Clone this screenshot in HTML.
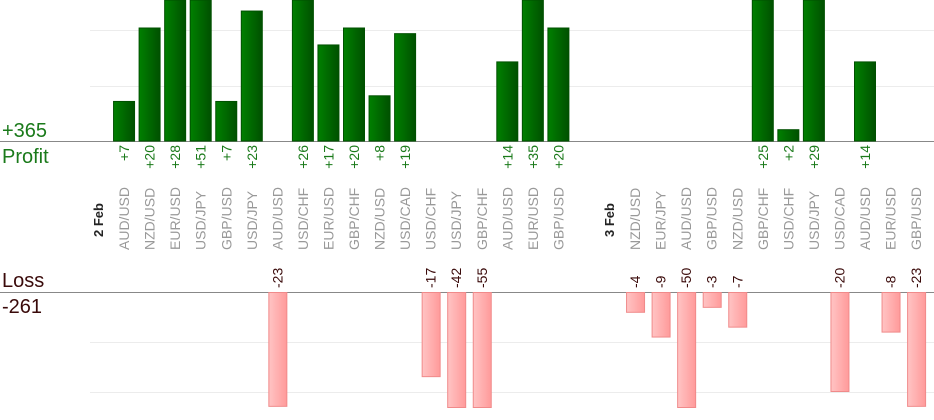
<!DOCTYPE html>
<html><head><meta charset="utf-8"><style>
html,body{margin:0;padding:0;background:#fff;width:934px;height:420px;overflow:hidden}
svg{display:block;font-family:"Liberation Sans",sans-serif}
</style></head><body>
<svg width="934" height="420" xmlns="http://www.w3.org/2000/svg">
<defs>
<linearGradient id="g" x1="0" x2="1" y1="0" y2="0"><stop offset="0" stop-color="#008000"/><stop offset="1" stop-color="#005000"/></linearGradient>
<linearGradient id="r" x1="0" x2="1" y1="0" y2="0"><stop offset="0" stop-color="#ffc4c4"/><stop offset="1" stop-color="#ff9a9a"/></linearGradient>
</defs>
<g stroke="#ececec" stroke-width="1">
<line x1="90" x2="934" y1="30.5" y2="30.5"/><line x1="90" x2="934" y1="86.5" y2="86.5"/>
<line x1="90" x2="934" y1="342.5" y2="342.5"/><line x1="90" x2="934" y1="392.5" y2="392.5"/>
</g>
<line x1="0" x2="934" y1="141.5" y2="141.5" stroke="#888"/>
<line x1="0" x2="934" y1="292.5" y2="292.5" stroke="#888"/>
<text x="2" y="137" font-size="20" fill="#1a7a1a">+365</text>
<text x="2" y="163" font-size="20" fill="#1a7a1a">Profit</text>
<text x="2" y="287" font-size="20" fill="#3a0a0a">Loss</text>
<text x="2" y="313" font-size="20" fill="#3a0a0a">-261</text>
<g id="c"></g>
</svg>
<script>
var cols=[["D","2 Feb"],["AUD/USD",7],["NZD/USD",20],["EUR/USD",28],["USD/JPY",51],["GBP/USD",7],["USD/JPY",23],["AUD/USD",-23],["USD/CHF",26],["EUR/USD",17],["GBP/CHF",20],["NZD/USD",8],["USD/CAD",19],["USD/CHF",-17],["USD/JPY",-42],["GBP/CHF",-55],["AUD/USD",14],["EUR/USD",35],["GBP/USD",20],null,["D","3 Feb"],["NZD/USD",-4],["EUR/JPY",-9],["AUD/USD",-50],["GBP/USD",-3],["NZD/USD",-7],["GBP/CHF",25],["USD/CHF",2],["USD/JPY",29],["USD/CAD",-20],["AUD/USD",14],["EUR/USD",-8],["GBP/USD",-23]];
var s="";
cols.forEach(function(c,i){if(!c)return;var x=98.5+i*25.55;
if(c[0]=="D"){s+='<text transform="translate('+(x+4.5)+',237) rotate(-90)" font-size="13" font-weight="bold" fill="#222">'+c[1]+'</text>';return;}
s+='<text transform="translate('+(x+5)+',250) rotate(-90)" font-size="14" fill="#999">'+c[0]+'</text>';
var v=c[1];
if(v>0){var h=Math.min(v*5.65,141);s+='<rect x="'+(x-10.5)+'" y="'+(141-h)+'" width="21" height="'+h+'" fill="url(#g)" stroke="#005000" stroke-width="1"/>';
s+='<text transform="translate('+(x+5)+',145) rotate(-90)" text-anchor="end" font-size="14" fill="#1a7a1a">+'+v+'</text>';}
else{var h=Math.min(-v*4.95,115);s+='<rect x="'+(x-8.5)+'" y="292.5" width="18" height="'+h+'" fill="url(#r)" stroke="#f08a8a" stroke-width="1"/>';
s+='<text transform="translate('+(x+5)+',288) rotate(-90)" font-size="14" fill="#3a0a0a">'+v+'</text>';}
});
document.getElementById("c").innerHTML=s;
</script>
</body></html>
